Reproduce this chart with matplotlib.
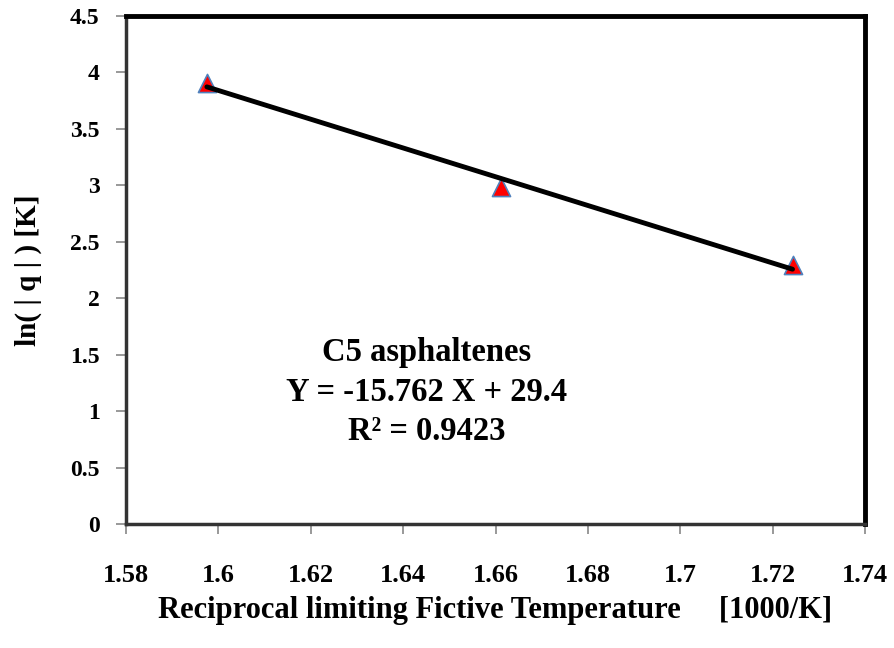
import numpy as np
import matplotlib
matplotlib.use("Agg")
import matplotlib.pyplot as plt

# Measured points
recip_tf = [1.5975, 1.6612, 1.7243]   # 1000/K
ln_q = [3.91, 2.985, 2.295]           # ln(|q|)

x_ticks = [1.58, 1.6, 1.62, 1.64, 1.66, 1.68, 1.7, 1.72, 1.74]
y_ticks = [0, 0.5, 1, 1.5, 2, 2.5, 3, 3.5, 4, 4.5]

annotation = ["C5 asphaltenes", "Y = -15.762 X + 29.4", "R\u00b2 = 0.9423"]

plt.rcParams['font.family'] = ['Liberation Serif', 'DejaVu Serif']
plt.rcParams['font.weight'] = 'bold'

fig = plt.figure(figsize=(8.94, 6.48), dpi=100)
ax = fig.add_axes([0.141, 0.1914, 0.8266, 0.7839])

# Linear trendline through the points
slope, intercept = np.polyfit(recip_tf, ln_q, 1)
xs = np.array([recip_tf[0], recip_tf[-1]])
ax.scatter(recip_tf, ln_q, marker='^', s=170, color='red',
           edgecolors='#4f81bd', linewidths=1.2, zorder=2)
ax.plot(xs, slope * xs + intercept, color='black', lw=3.5, zorder=3,
        solid_capstyle='round')

ax.set_xlim(1.58, 1.74)
ax.set_ylim(0, 4.5)
ax.set_xticks(x_ticks)
ax.set_xticklabels([f"{v:g}" for v in x_ticks])
ax.set_yticks(y_ticks)
ax.set_yticklabels([f"{v:g}" for v in y_ticks])

ax.tick_params(axis='both', direction='out', length=7, width=1.2,
               color='#888888')
ax.tick_params(axis='x', pad=22, labelsize=19)
ax.tick_params(axis='y', pad=12, labelsize=17)
for lab in ax.get_xticklabels() + ax.get_yticklabels():
    lab.set_fontweight('bold')

for side in ('top', 'right'):
    ax.spines[side].set_linewidth(3.5)
    ax.spines[side].set_color('black')
for side in ('left', 'bottom'):
    ax.spines[side].set_linewidth(2.5)
    ax.spines[side].set_color('#333333')

ax.set_xlabel("Reciprocal limiting Fictive Temperature     [1000/K]",
              fontsize=22, fontweight='bold', labelpad=6)
ax.set_ylabel("ln( | q | ) [K]", fontsize=21, fontweight='bold', labelpad=20)

for i, line in enumerate(annotation):
    ax.text(1.6451, 1.523 - i * 0.354, line, ha='center', va='center',
            fontsize=23.5, fontweight='bold')

fig.savefig("out.png", dpi=100)
